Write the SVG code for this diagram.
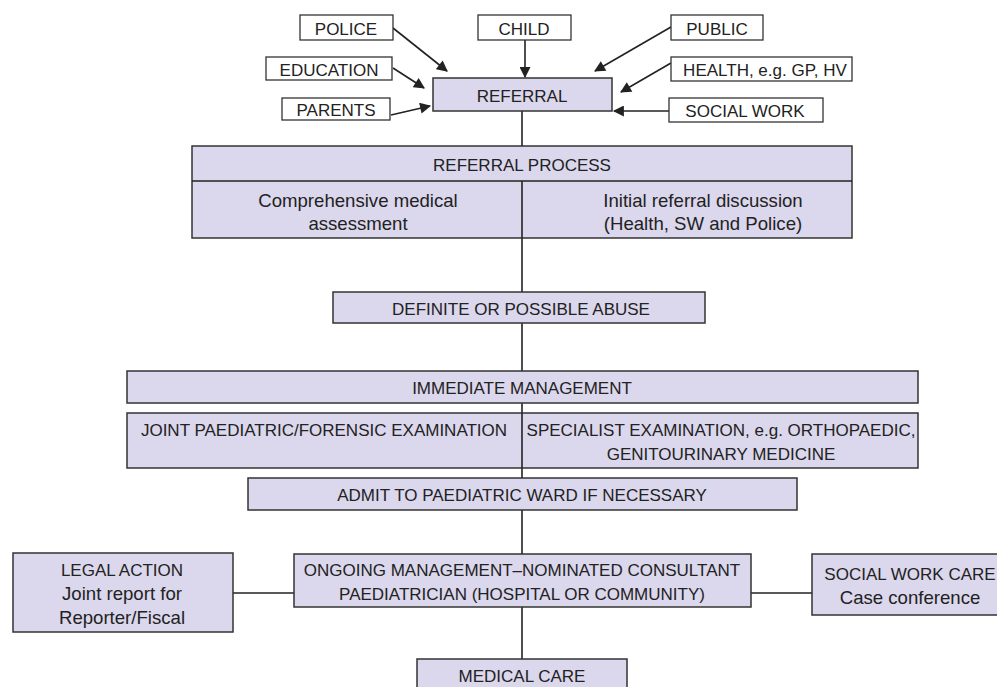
<svg xmlns="http://www.w3.org/2000/svg" width="997" height="687" viewBox="0 0 997 687">
<style>
.src{fill:#ffffff;stroke:#333;stroke-width:1.3}
.box{fill:#dbd7ec;stroke:#333;stroke-width:1.5}
text{font-family:"Liberation Sans","Open Sans",sans-serif;font-size:17px;fill:#222;text-anchor:middle}
text.lc{font-size:18.6px}
.ln{stroke:#222;stroke-width:1.6;fill:none}
</style>
<defs>
<marker id="ah" viewBox="0 0 10 10" refX="9" refY="5" markerWidth="12" markerHeight="11" markerUnits="userSpaceOnUse" orient="auto">
<path d="M0,0 L10,5 L0,10 z" fill="#222"/>
</marker>
</defs>
<rect width="997" height="687" fill="#ffffff"/>
<g id="connectors">
<line class="ln" x1="393" y1="28" x2="447" y2="71" marker-end="url(#ah)"/>
<line class="ln" x1="525" y1="40" x2="525" y2="77" marker-end="url(#ah)"/>
<line class="ln" x1="671" y1="27" x2="595" y2="71" marker-end="url(#ah)"/>
<line class="ln" x1="393" y1="68" x2="424" y2="88" marker-end="url(#ah)"/>
<line class="ln" x1="671" y1="63" x2="621" y2="92" marker-end="url(#ah)"/>
<line class="ln" x1="391" y1="115" x2="430" y2="106" marker-end="url(#ah)"/>
<line class="ln" x1="669" y1="111" x2="614" y2="111" marker-end="url(#ah)"/>
<line class="ln" x1="522" y1="111" x2="522" y2="146"/>
<line class="ln" x1="522" y1="238" x2="522" y2="292"/>
<line class="ln" x1="522" y1="323" x2="522" y2="371"/>
<line class="ln" x1="522" y1="403" x2="522" y2="413"/>
<line class="ln" x1="522" y1="468" x2="522" y2="478"/>
<line class="ln" x1="522" y1="510" x2="522" y2="554"/>
<line class="ln" x1="522" y1="607" x2="522" y2="659"/>
<line class="ln" x1="233" y1="593" x2="294" y2="593"/>
<line class="ln" x1="751" y1="593" x2="812" y2="593"/>
</g>
<g id="police"><rect class="src" x="300" y="15" width="93" height="25"/><text x="346" y="35">POLICE</text></g>
<g id="child"><rect class="src" x="478" y="15" width="93" height="25"/><text x="524" y="35">CHILD</text></g>
<g id="public"><rect class="src" x="671" y="15" width="92" height="25"/><text x="717" y="35">PUBLIC</text></g>
<g id="education"><rect class="src" x="266" y="57" width="126" height="23"/><text x="329" y="76">EDUCATION</text></g>
<g id="health"><rect class="src" x="671" y="57" width="181" height="24"/><text x="765" y="76">HEALTH, e.g. GP, HV</text></g>
<g id="parents"><rect class="src" x="282" y="98" width="108" height="22"/><text x="336" y="116">PARENTS</text></g>
<g id="socialwork"><rect class="src" x="669" y="98" width="154" height="24"/><text x="745" y="117">SOCIAL WORK</text></g>
<g id="referral"><rect class="box" x="433" y="78" width="179" height="33"/><text x="522" y="102">REFERRAL</text></g>
<g id="referral-process">
<rect class="box" x="192" y="146" width="660" height="92"/>
<line class="ln" x1="192" y1="181" x2="852" y2="181" stroke-width="1.3"/>
<line class="ln" x1="522" y1="181" x2="522" y2="238" stroke-width="1.3"/>
<text x="522" y="171">REFERRAL PROCESS</text>
<text class="lc" x="358" y="207">Comprehensive medical</text>
<text class="lc" x="358" y="230">assessment</text>
<text class="lc" x="703" y="207">Initial referral discussion</text>
<text class="lc" x="703" y="230">(Health, SW and Police)</text>
</g>
<g id="definite"><rect class="box" x="333" y="292" width="372" height="31"/><text x="521" y="315">DEFINITE OR POSSIBLE ABUSE</text></g>
<g id="immediate"><rect class="box" x="127" y="371" width="791" height="32"/><text x="522" y="394">IMMEDIATE MANAGEMENT</text></g>
<g id="examinations">
<rect class="box" x="127" y="413" width="791" height="55"/>
<line class="ln" x1="522" y1="413" x2="522" y2="468" stroke-width="1.3"/>
<text x="324" y="436">JOINT PAEDIATRIC/FORENSIC EXAMINATION</text>
<text x="721" y="436">SPECIALIST EXAMINATION, e.g. ORTHOPAEDIC,</text>
<text x="721" y="460">GENITOURINARY MEDICINE</text>
</g>
<g id="admit"><rect class="box" x="248" y="478" width="549" height="32"/><text x="522" y="501">ADMIT TO PAEDIATRIC WARD IF NECESSARY</text></g>
<g id="ongoing"><rect class="box" x="294" y="554" width="457" height="53"/><text x="522" y="576">ONGOING MANAGEMENT–NOMINATED CONSULTANT</text><text x="522" y="600">PAEDIATRICIAN (HOSPITAL OR COMMUNITY)</text></g>
<g id="legal"><rect class="box" x="13" y="553" width="220" height="79"/><text x="122" y="576">LEGAL ACTION</text><text class="lc" x="122" y="600">Joint report for</text><text class="lc" x="122" y="624">Reporter/Fiscal</text></g>
<g id="socialcare"><rect class="box" x="812" y="554" width="190" height="61"/><text x="910" y="580">SOCIAL WORK CARE</text><text class="lc" x="910" y="604">Case conference</text></g>
<g id="medical"><rect class="box" x="417" y="659" width="210" height="40"/><text x="522" y="682">MEDICAL CARE</text></g>
</svg>
